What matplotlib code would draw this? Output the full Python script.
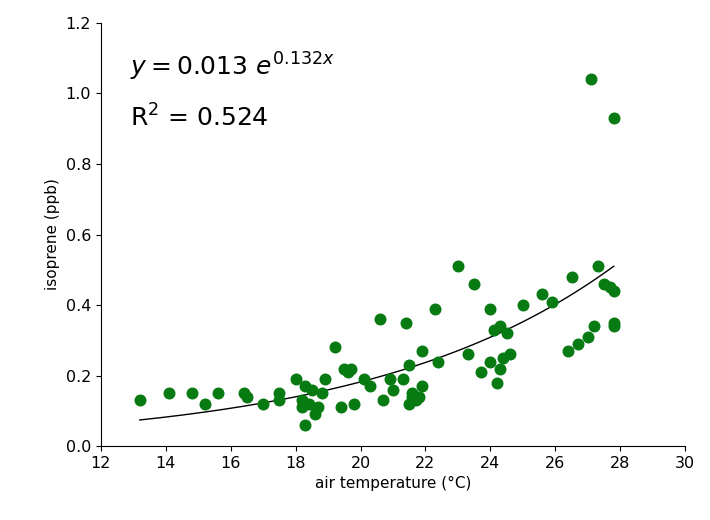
import numpy as np
import matplotlib.pyplot as plt

temp = [13.2, 14.1, 14.8, 15.2, 15.6, 16.4, 16.5, 17.0, 17.5, 17.5, 18.0, 18.2, 18.2, 18.3, 18.3,
        18.4, 18.5, 18.6, 18.7, 18.8, 18.9, 19.2, 19.4, 19.5, 19.6, 19.7, 19.8, 20.1, 20.3, 20.6,
        20.7, 20.9, 21.0, 21.3, 21.4, 21.5, 21.5, 21.6, 21.6, 21.7, 21.8, 21.9, 21.9, 22.3, 22.4,
        23.0, 23.3, 23.5, 23.7, 24.0, 24.0, 24.1, 24.2, 24.3, 24.3, 24.4, 24.5, 24.6, 25.0, 25.6,
        25.9, 26.4, 26.5, 26.7, 27.0, 27.2, 27.3, 27.5, 27.7, 27.8, 27.8, 27.8, 27.1, 27.8]
iso = [0.13, 0.15, 0.15, 0.12, 0.15, 0.15, 0.14, 0.12, 0.15, 0.13, 0.19, 0.13, 0.11, 0.06, 0.17,
       0.12, 0.16, 0.09, 0.11, 0.15, 0.19, 0.28, 0.11, 0.22, 0.21, 0.22, 0.12, 0.19, 0.17, 0.36,
       0.13, 0.19, 0.16, 0.19, 0.35, 0.23, 0.12, 0.14, 0.15, 0.13, 0.14, 0.17, 0.27, 0.39, 0.24,
       0.51, 0.26, 0.46, 0.21, 0.39, 0.24, 0.33, 0.18, 0.34, 0.22, 0.25, 0.32, 0.26, 0.40, 0.43,
       0.41, 0.27, 0.48, 0.29, 0.31, 0.34, 0.51, 0.46, 0.45, 0.44, 0.35, 0.34, 1.04, 0.93]
a, b = 0.013, 0.132

fig = plt.figure(figsize=(7.1, 5.2), dpi=100)
ax = fig.add_axes([0.142, 0.142, 0.823, 0.814])
ax.scatter(temp, iso, s=58, color='#087a12', zorder=3)
xf = np.linspace(min(temp), max(temp), 200)
ax.plot(xf, a * np.exp(b * xf), color='black', lw=1)
ax.set_xlim(12, 30)
ax.set_ylim(0, 1.2)
ax.spines['top'].set_visible(False)
ax.spines['right'].set_visible(False)
ax.set_xticks(range(12, 31, 2))
ax.set_yticks(np.arange(0, 1.21, 0.2))
ax.set_yticklabels([f"{v:.1f}" for v in np.arange(0, 1.21, 0.2)])
ax.tick_params(labelsize=11.5)
ax.set_xlabel('air temperature (°C)', fontsize=11)
ax.set_ylabel('isoprene (ppb)', fontsize=11)
ax.text(0.05, 0.875, r'$y = 0.013\ e^{0.132x}$', transform=ax.transAxes, fontsize=18,
        math_fontfamily='dejavusans')
ax.text(0.05, 0.755, r'R$^2$ = 0.524', transform=ax.transAxes, fontsize=18)
fig.savefig('out.png')
